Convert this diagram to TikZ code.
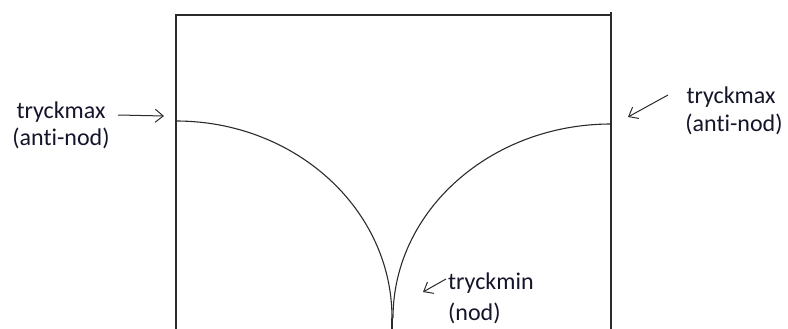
\documentclass[tikz,border=0pt]{standalone}
\usepackage{fontspec}
\setmainfont{Carlito}[Ligatures=NoCommon]
\usetikzlibrary{arrows.meta, positioning}
\definecolor{penline}{HTML}{2B2B2B}
\definecolor{labelink}{HTML}{14142A}

\begin{document}
\begin{tikzpicture}[x=1pt, y=-1pt, font=\fontsize{24}{28}\selectfont,
    wall/.style={draw=penline, line width=1.5pt},
    wave/.style={draw=penline, line width=1.1pt},
    pointer/.style={draw=penline, line width=1pt, -{Straight Barb[length=8pt, width=13pt]}},
    lbl/.style={text=labelink, inner sep=0pt}]
  \useasboundingbox (0,0) rectangle (788,329);
  % Rör
  \draw[wall] (176,329) -- (176,15) -- (611,15);
  \draw[wall] (611,12) -- (611,329);
  % Tryckkurvor
  \draw[wave] (176,121) .. controls (295.3,121) and (392,209.2) .. (392,318);
  \draw[wave] (611,124) .. controls (490.6,124) and (393,210.9) .. (393,318);
  \draw[wave] (392,318) -- (392,329);
  % Vänster etikett
  \node[lbl] (maxleft) at (61,112) {tryckmax};
  \node[lbl] (antileft) at (61,138) {(anti-nod)};
  \coordinate (maxlefttail) at (118,115);
  \coordinate (maxlefttip) at (164,116);
  \draw[pointer] (maxlefttail) -- (maxlefttip);
  % Höger etikett
  \node[lbl] (maxright) at (731,97) {tryckmax};
  \node[lbl] (antiright) at (734,124) {(anti-nod)};
  \coordinate (maxrighttail) at (668,95);
  \coordinate (maxrighttip) at (628,117);
  \draw[pointer] (maxrighttail) -- (maxrighttip);
  % Nod
  \node[lbl, anchor=west] (minmid) at (448,283) {tryckmin};
  \node[lbl, anchor=west] (nodmid) at (448,313) {(nod)};
  \coordinate (minmidtail) at (446,279);
  \coordinate (minmidtip) at (423,292);
  \draw[pointer] (minmidtail) -- (minmidtip);
\end{tikzpicture}
\end{document}
